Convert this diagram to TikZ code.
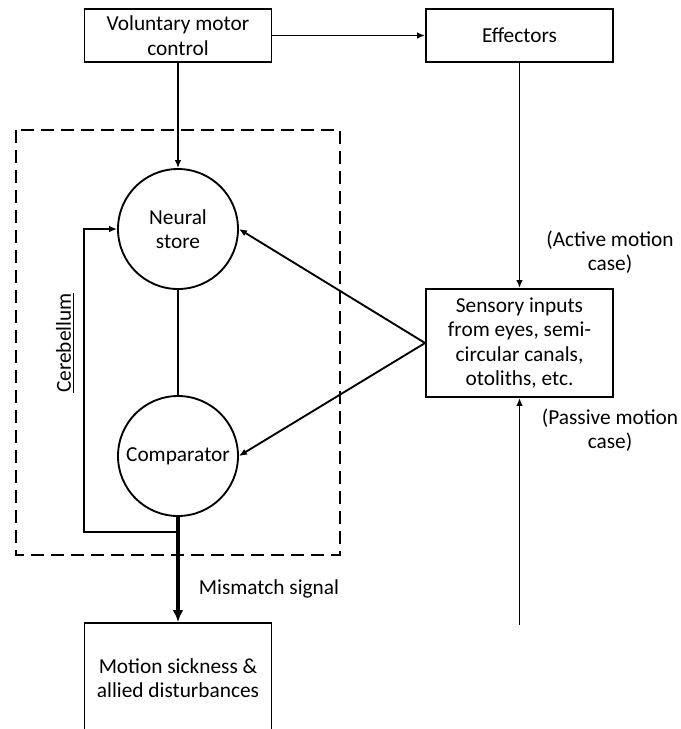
\documentclass[tikz,border=0pt]{standalone}
\usepackage{fontspec}
\setmainfont{Carlito}
\usetikzlibrary{arrows.meta}
\begin{document}
\begin{tikzpicture}
[x=0.75pt,y=-0.75pt,line width=1.4pt,%
  >={Latex[length=6pt,width=5pt]},%
  every node/.style={font=\fontsize{16}{18.3}\selectfont,align=center},%
  block/.style={draw,rectangle,minimum width=140.25pt,minimum height=39.75pt},%
  unit/.style={draw,circle,minimum size=90pt,inner sep=0pt}]
\useasboundingbox (0,0) rectangle (681,729);
\clip (0,0) rectangle (681,729);
% top row
\node[block] (motor) at (178,35.5) {Voluntary motor\\control};
\node[block] (eff) at (519.5,35.5) {Effectors};
% cerebellum
\draw[dash pattern=on 10pt off 5pt] (16,130) rectangle (340,555);
\node[rotate=90] (cereb) at (65,343) {\underline{Cerebellum}};
\node[unit] (store) at (178,229) {Neural\\store};
\node[unit] (comp) at (178,456) {Comparator};
% sensory side
\node[block,minimum height=81pt] (sens) at (519.5,343) {Sensory inputs\\from eyes, semi-\\circular canals,\\otoliths, etc.};
\node (active) at (610,252) {(Active motion\\case)};
\node (passive) at (610,430) {(Passive motion\\case)};
\coordinate (passin) at (519.5,625);
\coordinate (loop) at (84,532);
% output
\node[block,minimum height=82.5pt] (sick) at (178,678) {Motion sickness \&\\allied disturbances};
\node (mismatch) at (269,589) {Mismatch signal};

\draw[->] (motor) -- (eff);
\draw[->] (motor) -- (store);
\draw[->] (eff) -- (sens);
\draw (store) -- (comp);
\draw[->] (sens.west) -- (store.east);
\draw[->] (sens.west) -- (comp.east);
\draw[->] (comp.south) |- (loop) |- (store.west);
\draw[->] (passin) -- (sens);
\draw[line width=3pt,-{Latex[length=9pt,width=8pt]}] (comp) -- (sick);
\end{tikzpicture}
\end{document}
